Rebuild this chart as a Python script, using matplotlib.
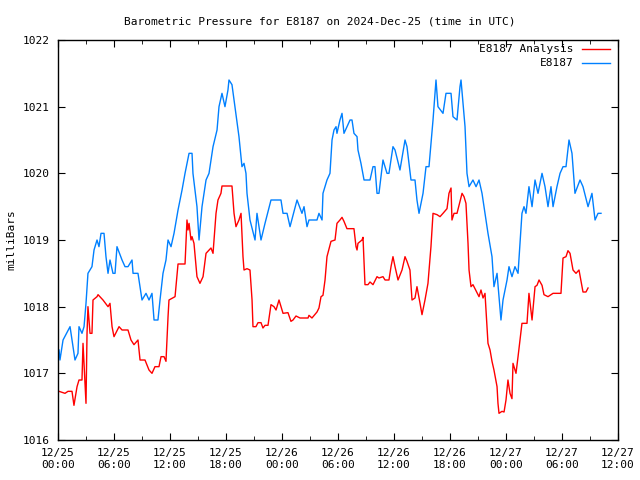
import numpy as np
import pandas as pd
import matplotlib
matplotlib.use('Agg')
from matplotlib import pyplot as plt
import matplotlib.dates as mdates
from matplotlib.ticker import MultipleLocator

# hours after 2024-12-25 00:00 UTC, pressure in mb
obs_hours = [0.11, 0.21, 0.54, 1.29, 1.82, 2.14, 2.25, 2.57, 2.79, 3.0, 3.21, 3.64, 3.86, 4.18, 4.39,
             4.61, 4.93, 5.14, 5.36, 5.57, 5.89, 6.11, 6.32, 6.86, 7.18, 7.5, 7.93, 8.04, 8.57, 8.89,
             9.0, 9.43, 9.75, 10.07, 10.29, 10.71, 10.93, 11.25, 11.57, 11.79, 12.11, 12.43, 12.86,
             13.29, 13.61, 14.04, 14.36, 14.46, 14.89, 15.11, 15.43, 15.86, 16.18, 16.61, 17.04,
             17.25, 17.57, 17.89, 18.21, 18.32, 18.64, 18.96, 19.39, 19.71, 19.93, 20.14, 20.25,
             20.57, 21.11, 21.32, 21.75, 22.18, 22.82, 23.89, 24.11, 24.54, 24.86, 25.61, 26.14,
             26.36, 26.68, 26.89, 27.75, 27.96, 28.29, 28.39, 28.82, 29.14, 29.36, 29.57, 29.79,
             29.89, 30.21, 30.43, 30.64, 30.96, 31.29, 31.5, 31.71, 32.04, 32.14, 32.46, 32.79,
             33.43, 33.75, 33.96, 34.18, 34.39, 34.82, 35.25, 35.46, 35.89, 36.11, 36.64, 37.18,
             37.39, 37.82, 38.25, 38.46, 38.68, 39.11, 39.43, 39.75, 40.18, 40.5, 40.71, 41.25,
             41.57, 42.11, 42.32, 42.75, 43.07, 43.18, 43.61, 43.82, 44.04, 44.46, 44.79, 45.11,
             45.43, 45.75, 46.07, 46.5, 46.71, 47.04, 47.25, 47.46, 47.68, 48.11, 48.32, 48.64,
             48.96, 49.29, 49.71, 49.93, 50.14, 50.46, 50.79, 51.11, 51.43, 51.86, 52.18, 52.5,
             52.82, 53.04, 53.46, 53.79, 54.11, 54.43, 54.75, 55.07, 55.39, 55.93, 56.25, 56.79,
             57.21, 57.54, 57.86, 58.18]
obs_mb = [1017.35, 1017.2, 1017.5, 1017.7, 1017.2, 1017.3, 1017.7, 1017.6, 1017.7, 1018.05, 1018.5,
          1018.6, 1018.85, 1019.0, 1018.9, 1019.1, 1019.1, 1018.75, 1018.5, 1018.7, 1018.5, 1018.5,
          1018.9, 1018.7, 1018.6, 1018.6, 1018.7, 1018.5, 1018.5, 1018.2, 1018.1, 1018.2, 1018.1,
          1018.2, 1017.8, 1017.8, 1018.1, 1018.5, 1018.7, 1019.0, 1018.9, 1019.1, 1019.45, 1019.75,
          1020.0, 1020.3, 1020.3, 1020.0, 1019.5, 1019.0, 1019.5, 1019.9, 1020.0, 1020.4, 1020.65,
          1021.0, 1021.2, 1021.0, 1021.25, 1021.4, 1021.33, 1021.0, 1020.55, 1020.1, 1020.15,
          1020.0, 1019.7, 1019.3, 1019.0, 1019.4, 1019.0, 1019.25, 1019.6, 1019.6, 1019.4, 1019.4,
          1019.2, 1019.6, 1019.4, 1019.5, 1019.2, 1019.3, 1019.3, 1019.4, 1019.3, 1019.7, 1019.9,
          1020.0, 1020.5, 1020.65, 1020.7, 1020.6, 1020.8, 1020.9, 1020.6, 1020.7, 1020.8, 1020.8,
          1020.6, 1020.55, 1020.35, 1020.15, 1019.9, 1019.9, 1020.1, 1020.1, 1019.7, 1019.7,
          1020.2, 1020.0, 1020.0, 1020.4, 1020.35, 1020.05, 1020.5, 1020.4, 1019.9, 1019.9,
          1019.6, 1019.4, 1019.7, 1020.1, 1020.1, 1020.8, 1021.4, 1021.0, 1020.9, 1021.2, 1021.2,
          1020.85, 1020.8, 1021.3, 1021.4, 1020.7, 1020.0, 1019.8, 1019.9, 1019.8, 1019.9, 1019.7,
          1019.4, 1019.1, 1018.75, 1018.3, 1018.5, 1018.15, 1017.8, 1018.1, 1018.4, 1018.6,
          1018.45, 1018.6, 1018.5, 1019.4, 1019.5, 1019.4, 1019.8, 1019.5, 1019.9, 1019.7, 1020.0,
          1019.8, 1019.5, 1019.8, 1019.5, 1019.8, 1020.0, 1020.1, 1020.1, 1020.5, 1020.3, 1019.7,
          1019.9, 1019.8, 1019.5, 1019.7, 1019.3, 1019.4, 1019.4]

ana_hours = [0.11, 0.75, 1.07, 1.5, 1.71, 2.04, 2.25, 2.57, 2.68, 2.89, 3.0, 3.11, 3.21, 3.43, 3.64,
             3.75, 4.18, 4.29, 4.82, 5.36, 5.57, 5.79, 6.0, 6.54, 6.86, 7.5, 7.82, 8.14, 8.57, 8.79,
             9.32, 9.75, 10.07, 10.39, 10.82, 11.04, 11.36, 11.57, 11.79, 11.89, 12.54, 12.86, 13.61,
             13.82, 13.93, 14.04, 14.25, 14.36, 14.57, 14.89, 15.21, 15.54, 15.86, 16.39, 16.61,
             16.93, 17.14, 17.46, 17.57, 18.64, 18.86, 19.07, 19.39, 19.61, 19.82, 19.93, 20.25,
             20.57, 20.79, 20.89, 21.21, 21.43, 21.75, 21.96, 22.18, 22.5, 22.82, 23.14, 23.36,
             23.68, 23.89, 24.11, 24.64, 24.96, 25.18, 25.5, 25.93, 26.79, 26.89, 27.21, 27.75,
             27.96, 28.18, 28.39, 28.61, 28.82, 29.25, 29.68, 29.89, 30.21, 30.43, 30.64, 30.96,
             31.71, 31.93, 32.04, 32.14, 32.57, 32.68, 32.89, 33.21, 33.43, 33.75, 34.18, 34.39,
             34.82, 35.04, 35.46, 35.68, 35.89, 36.11, 36.43, 36.86, 37.18, 37.39, 37.71, 37.93,
             38.25, 38.46, 38.79, 39.0, 39.32, 39.64, 39.96, 40.18, 40.61, 40.93, 41.25, 41.68,
             41.89, 42.11, 42.21, 42.43, 42.75, 43.29, 43.5, 43.71, 43.93, 44.04, 44.25, 44.46,
             45.11, 45.32, 45.54, 45.75, 46.07, 46.29, 46.5, 46.71, 47.04, 47.14, 47.25, 47.57,
             47.79, 48.0, 48.21, 48.43, 48.64, 48.75, 49.07, 49.29, 49.71, 50.25, 50.46, 50.79,
             51.11, 51.32, 51.54, 51.86, 52.07, 52.5, 53.04, 53.89, 54.11, 54.43, 54.64, 54.86,
             55.18, 55.5, 55.82, 56.14, 56.25, 56.57, 56.79]
ana_mb = [1016.73, 1016.7, 1016.73, 1016.73, 1016.52, 1016.8, 1016.9, 1016.9, 1017.45, 1016.85,
          1016.55, 1017.6, 1018.0, 1017.6, 1017.6, 1018.1, 1018.15, 1018.18, 1018.1, 1018.0,
          1018.05, 1017.7, 1017.55, 1017.7, 1017.65, 1017.65, 1017.5, 1017.43, 1017.5, 1017.2,
          1017.2, 1017.05, 1017.0, 1017.1, 1017.1, 1017.25, 1017.25, 1017.18, 1017.85, 1018.1,
          1018.15, 1018.64, 1018.64, 1019.3, 1019.15, 1019.25, 1019.0, 1019.05, 1018.95, 1018.45,
          1018.35, 1018.45, 1018.8, 1018.88, 1018.8, 1019.4, 1019.6, 1019.7, 1019.81, 1019.81,
          1019.4, 1019.2, 1019.3, 1019.4, 1018.75, 1018.55, 1018.57, 1018.55, 1018.1, 1017.7,
          1017.7, 1017.76, 1017.76, 1017.68, 1017.72, 1017.72, 1018.03, 1018.0, 1017.95, 1018.1,
          1018.0, 1017.9, 1017.91, 1017.78, 1017.8, 1017.86, 1017.83, 1017.83, 1017.87, 1017.83,
          1017.92, 1017.98, 1018.15, 1018.17, 1018.4, 1018.75, 1018.98, 1019.0, 1019.25, 1019.3,
          1019.34, 1019.28, 1019.17, 1019.17, 1018.9, 1018.85, 1018.95, 1019.0, 1019.04, 1018.33,
          1018.33, 1018.37, 1018.33, 1018.45, 1018.43, 1018.45, 1018.4, 1018.4, 1018.6, 1018.75,
          1018.6, 1018.4, 1018.55, 1018.75, 1018.68, 1018.55, 1018.1, 1018.13, 1018.3, 1018.05,
          1017.88, 1018.1, 1018.35, 1018.9, 1019.4, 1019.38, 1019.35, 1019.4, 1019.47, 1019.7,
          1019.78, 1019.3, 1019.4, 1019.4, 1019.7, 1019.65, 1019.55, 1018.95, 1018.55, 1018.3,
          1018.33, 1018.15, 1018.25, 1018.13, 1018.2, 1017.45, 1017.35, 1017.18, 1017.05, 1016.8,
          1016.55, 1016.4, 1016.43, 1016.42, 1016.6, 1016.9, 1016.7, 1016.62, 1017.15, 1017.0,
          1017.25, 1017.75, 1017.75, 1018.2, 1017.8, 1018.3, 1018.32, 1018.4, 1018.32, 1018.18,
          1018.15, 1018.2, 1018.2, 1018.73, 1018.75, 1018.84, 1018.8, 1018.55, 1018.5, 1018.55,
          1018.3, 1018.22, 1018.22, 1018.28]

start = pd.Timestamp('2024-12-25 00:00')
end = pd.Timestamp('2024-12-27 12:00')
obs_t = start + pd.to_timedelta(obs_hours, unit='h')
ana_t = start + pd.to_timedelta(ana_hours, unit='h')

plt.rcParams['font.family'] = ['DejaVu Sans Mono']
plt.rcParams['font.size'] = 8

fig = plt.figure(figsize=(6.4, 4.8), dpi=100)
ax = fig.add_axes([58/640, 40/480, 560/640, 400/480])

ax.plot(ana_t, ana_mb, color='#ff0000', linewidth=1)
ax.plot(obs_t, obs_mb, color='#0080ff', linewidth=1)

ax.set_xlim(start, end)
ax.set_ylim(1016, 1022)
ax.yaxis.set_major_locator(MultipleLocator(1))
ax.yaxis.set_major_formatter(matplotlib.ticker.FormatStrFormatter('%d'))
ax.xaxis.set_major_locator(mdates.HourLocator(byhour=[0, 6, 12, 18]))
ax.xaxis.set_minor_locator(mdates.HourLocator(byhour=[3, 9, 15, 21]))
ax.xaxis.set_major_formatter(mdates.DateFormatter('%m/%d\n%H:%M'))
ax.tick_params(axis='both', which='both', direction='in', top=True, right=True, labelsize=8)
ax.tick_params(axis='both', which='major', length=5, pad=6)
ax.tick_params(axis='x', which='minor', length=3)
for s in ax.spines.values():
    s.set_linewidth(1)

ax.set_ylabel('milliBars')
ax.yaxis.set_label_coords(-0.075, 0.5)
fig.suptitle('Barometric Pressure for E8187 on 2024-Dec-25 (time in UTC)', y=0.965, fontsize=8)

# gnuplot style key: right aligned text followed by sample line
ax.text(0.921, 0.9775, 'E8187 Analysis', transform=ax.transAxes, ha='right', va='center')
ax.plot([0.936, 0.986], [0.9775, 0.9775], transform=ax.transAxes, color='#ff0000', linewidth=1)
ax.text(0.921, 0.9425, 'E8187', transform=ax.transAxes, ha='right', va='center')
ax.plot([0.936, 0.986], [0.9425, 0.9425], transform=ax.transAxes, color='#0080ff', linewidth=1)

fig.savefig('out.png', dpi=100)
